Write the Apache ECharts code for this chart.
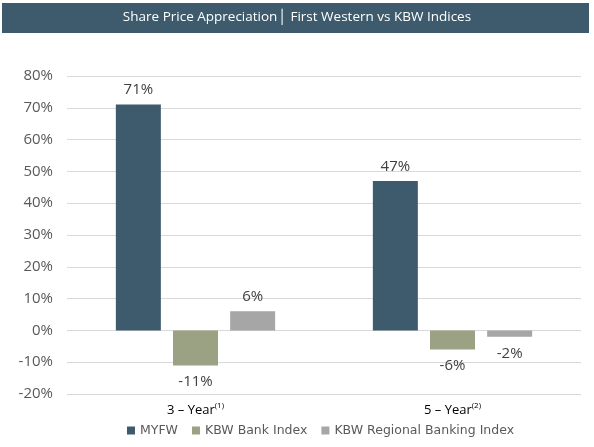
<!DOCTYPE html>
<html lang="en">
<head>
    <meta charset="UTF-8" />
    <title>Share Price Appreciation</title>
    <script src="https://cdn.jsdelivr.net/npm/echarts@6/dist/echarts.min.js"></script>
</head>
<body style="margin: 0">
    <div id="main" style="width: 594px; height: 447px"></div>
    <script>
        var categories = ["3yr", "5yr"];
        var myfw = [71, 47];
        var kbwBank = [-11, -6];
        var kbwRegional = [6, -2];

        var mCharts = echarts.init(document.getElementById("main"));

        function barLabel(v) {
            return {
                show: true,
                position: v >= 0 ? "top" : "bottom",
                distance: v >= 0 ? 7 : 9,
                color: "#404040",
                fontSize: 15,
                fontFamily: "Open Sans",
                formatter: function (p) { return p.value + "%"; },
            };
        }
        function makeData(arr) {
            return arr.map(function (v) {
                return { value: v, label: barLabel(v) };
            });
        }

        var option = {
            animation: false,
            graphic: [
                {
                    type: "rect",
                    shape: { x: 2, y: 3, width: 587, height: 30 },
                    style: { fill: "#3e5b6d" },
                },
                {
                    type: "text",
                    left: "center",
                    top: 10,
                    style: {
                        text: "Share Price Appreciation\u2502 First Western vs KBW Indices",
                        fill: "#ffffff",
                        fontSize: 13.5,
                        fontFamily: "Open Sans",
                    },
                },
            ],
            grid: { left: 67, right: 13, top: 76, bottom: 53, containLabel: false },
            legend: {
                bottom: 5,
                left: 122,
                itemWidth: 8,
                itemHeight: 8,
                itemGap: 14,
                icon: "rect",
                textStyle: { color: "#595959", fontSize: 12.5, fontFamily: "DejaVu Sans" },
                data: ["MYFW", "KBW Bank Index", "KBW Regional Banking Index"],
            },
            xAxis: {
                type: "category",
                data: categories,
                axisLine: { show: false },
                axisTick: { show: false },
                axisLabel: {
                    margin: 8,
                    formatter: function (v) {
                        return v === "3yr" ? "3 \u2013 Year{sup|(1)}" : "5 \u2013 Year{sup|(2)}";
                    },
                    color: "#000000",
                    fontSize: 13,
                    fontFamily: "Open Sans",
                    rich: {
                        sup: { fontSize: 8, verticalAlign: "top", padding: [0, 0, 8, 0], color: "#000000" },
                    },
                },
            },
            yAxis: {
                type: "value",
                min: -20,
                max: 80,
                interval: 10,
                axisLabel: {
                    formatter: "{value}%",
                    color: "#595959",
                    fontSize: 15,
                    fontFamily: "Open Sans",
                    margin: 14,
                },
                splitLine: { lineStyle: { color: "#d9d9d9" } },
                axisLine: { show: false },
                axisTick: { show: false },
            },
            series: [
                {
                    name: "MYFW",
                    type: "bar",
                    barWidth: 45,
                    barGap: "27%",
                    itemStyle: { color: "#3e5b6d" },
                    data: makeData(myfw),
                },
                {
                    name: "KBW Bank Index",
                    type: "bar",
                    barWidth: 45,
                    barGap: "27%",
                    itemStyle: { color: "#9ba283" },
                    data: makeData(kbwBank),
                },
                {
                    name: "KBW Regional Banking Index",
                    type: "bar",
                    barWidth: 45,
                    barGap: "27%",
                    itemStyle: { color: "#a6a6a6" },
                    data: makeData(kbwRegional),
                },
            ],
        };
        mCharts.setOption(option);
    </script>
</body>
</html>
